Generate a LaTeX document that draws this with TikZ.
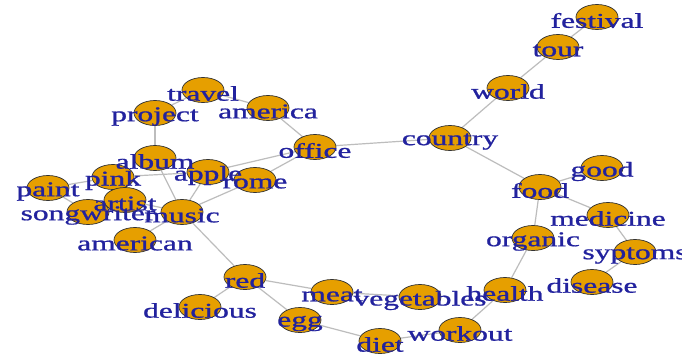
\documentclass[tikz,border=0pt]{standalone}
\usepackage{fontspec}
\setmainfont{Liberation Serif}
\newfontfamily\labfont[FakeBold=0.8]{Liberation Serif}
\usetikzlibrary{shapes.geometric}
\pgfdeclarelayer{background}
\pgfsetlayers{background,main}
\definecolor{vfill}{HTML}{E69F00}
\definecolor{vlab}{HTML}{22229E}
\definecolor{edgec}{HTML}{BDBDBD}
\tikzset{
  vert/.style={ellipse, draw=black!80, fill=vfill, minimum width=42pt, minimum height=25pt, inner sep=0pt, line width=0.7pt},
  vlabel/.style={text=vlab, font=\labfont\fontsize{21}{21}\selectfont, inner sep=0pt, anchor=center},
  edg/.style={draw=edgec, line width=1.2pt}
}
\begin{document}
\begin{tikzpicture}[x=1pt,y=-1pt]
\useasboundingbox (0,0) rectangle (682,356);
\foreach \n/\x/\y in {festival/597/17, tour/558/47, world/508/88, country/450/138,
  office/315/147, america/268/108, travel/203/90, project/155/113, album/155/158,
  pink/113/177, paint/48/188, artist/125/200, songwriter/88/212, music/182/212,
  american/135/240, apple/208/172, rome/255/180, food/540/187, good/602/168,
  medicine/608/215, syptoms/635/252, disease/592/282, organic/533/238,
  health/505/290, vegetables/420/297, workout/460/330, diet/380/341,
  meat/332/292, egg/300/320, red/245/277, delicious/200/307}
  \node[vert] (\n) at (\x,\y) {};
\begin{pgfonlayer}{background}
\fill[white] (0,0) rectangle (682,356);
\foreach \a/\b in {festival/tour, tour/world, world/country, country/office,
  country/food, food/good, food/medicine, food/organic, medicine/syptoms,
  syptoms/disease, organic/health, health/workout, workout/diet, diet/egg,
  egg/red, red/meat, red/delicious, meat/vegetables, red/music, music/american,
  music/artist, music/album, music/apple, music/rome, rome/office, apple/office,
  office/america, america/travel, travel/project, project/album, pink/apple,
  pink/paint, paint/songwriter}
  \draw[edg] (\a) -- (\b);
\end{pgfonlayer}
\foreach \n/\t in {festival/festival, tour/tour, world/world, country/country,
  office/office, america/america, travel/travel, project/project, album/album,
  pink/pink, paint/paint, artist/artist, songwriter/songwriter, music/music,
  american/american, apple/apple, rome/rome, food/food, good/good,
  medicine/medicine, syptoms/syptoms, disease/disease, organic/organic,
  health/health, vegetables/vegetables, workout/workout, diet/diet,
  meat/meat, egg/egg, red/red, delicious/delicious}
  \node[vlabel] (\n-l) at ([yshift=-3.5pt]\n.center) {\scalebox{1.5}[1]{\t}};
\end{tikzpicture}
\end{document}
